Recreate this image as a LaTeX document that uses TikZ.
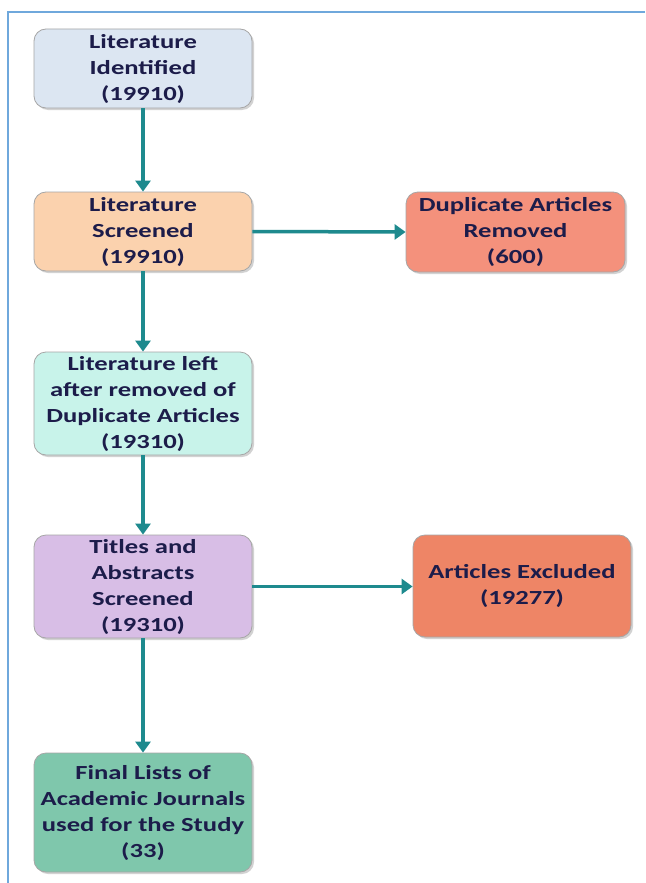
\documentclass[tikz,border=0pt]{standalone}
\usepackage{fontspec}
\setmainfont{Carlito}[FakeStretch=1.33]
\usetikzlibrary{arrows.meta,shadows}
\definecolor{frameblue}{HTML}{6FA8DC}
\definecolor{arrowteal}{HTML}{1E8A8E}
\definecolor{txt}{HTML}{1C1C4A}
\definecolor{cA}{HTML}{DCE6F2}
\definecolor{cB}{HTML}{FBD2AE}
\definecolor{cC}{HTML}{F4917C}
\definecolor{cD}{HTML}{C8F3EA}
\definecolor{cE}{HTML}{D8BEE6}
\definecolor{cF}{HTML}{EE8566}
\definecolor{cG}{HTML}{7FC7AC}
\tikzset{
  box/.style={draw=black!35, line width=0.8pt, rounded corners=12pt, align=center,
    text=txt, font=\fontsize{20}{26}\selectfont\bfseries, inner sep=0pt,
    drop shadow={shadow xshift=2pt, shadow yshift=-2pt, opacity=0.35}},
  conn/.style={draw=arrowteal, line width=3.5pt, -{Triangle[length=11pt,width=15pt]}}
}
\begin{document}
\begin{tikzpicture}[x=1pt,y=-1pt]
\useasboundingbox (0,0) rectangle (645,883);
\fill[white] (0,0) rectangle (645,883);
\draw[frameblue, line width=1.2pt] (645,12) -- (8,12) -- (8,883);
\node[box, fill=cA, minimum width=218pt, minimum height=79pt] (a) at (143,68.5) {Literature\\Identified\\(19910)};
\node[box, fill=cB, minimum width=218pt, minimum height=79pt] (b) at (143,231.5) {Literature\\Screened\\(19910)};
\node[box, fill=cC, minimum width=219pt, minimum height=80pt] (c) at (515.5,232) {Duplicate Articles\\Removed\\(600)};
\node[box, fill=cD, minimum width=218pt, minimum height=103pt] (d) at (143,403.5) {Literature left\\after removed of\\Duplicate Articles\\(19310)};
\node[box, fill=cE, minimum width=218pt, minimum height=103pt] (e) at (143,586.5) {Titles and\\Abstracts\\Screened\\(19310)};
\node[box, fill=cF, minimum width=218pt, minimum height=102pt] (f) at (522,586) {Articles Excluded\\(19277)};
\node[box, fill=cG, minimum width=218pt, minimum height=119pt] (g) at (143,812.5) {Final Lists of\\Academic Journals\\used for the Study\\(33)};
\draw[conn] (a) -- (b);
\draw[conn] (b.east) -- (c.west);
\draw[conn] (b) -- (d);
\draw[conn] (d) -- (e);
\draw[conn] (e.east) -- (e.east -| f.west);
\draw[conn] (e) -- (g);
\end{tikzpicture}
\end{document}
